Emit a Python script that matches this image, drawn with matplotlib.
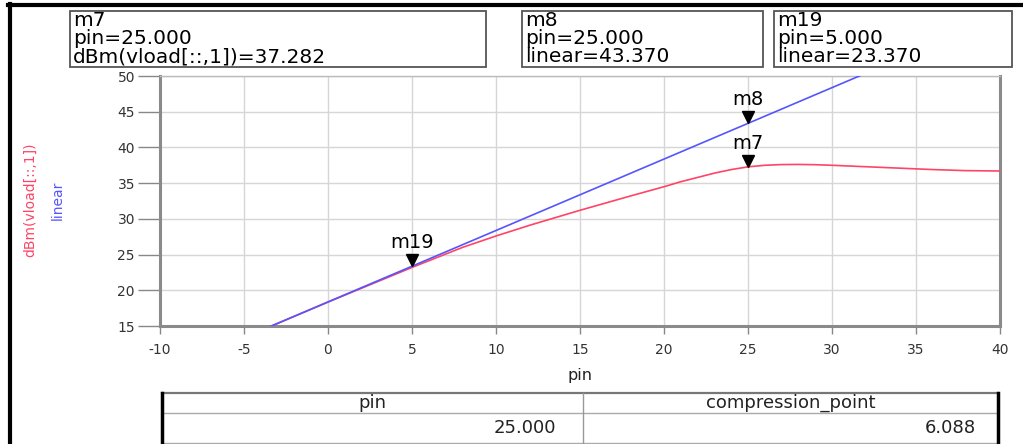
import matplotlib
matplotlib.use("Agg")
import matplotlib.pyplot as plt
from matplotlib.patches import Rectangle
from matplotlib.lines import Line2D
import matplotlib.transforms as mtransforms

# ---------------- data ----------------
pin = [-10, -5, 0, 5, 8, 10, 12, 15, 18, 20, 21, 22, 23, 24, 25, 26, 27, 28,
       29, 30, 32, 34, 36, 38, 40]
dbm_vload = [8.37, 13.37, 18.35, 23.2, 26.0, 27.6, 29.1, 31.2, 33.2, 34.5, 35.2,
             35.8, 36.4, 36.9, 37.28, 37.5, 37.6, 37.62, 37.58, 37.5, 37.3, 37.1,
             36.9, 36.75, 36.7]
pin_linear = [-10, 40]
linear = [8.37, 58.37]

marker_names = ["m7", "m8", "m19"]
marker_pin = [25.0, 25.0, 5.0]
marker_val = [37.282, 43.370, 23.370]
marker_expr = ["dBm(vload[::,1])", "linear", "linear"]

x_ticks = [-10, -5, 0, 5, 10, 15, 20, 25, 30, 35, 40]
y_ticks = [15, 20, 25, 30, 35, 40, 45, 50]

table_headers = ["pin", "compression_point"]
table_values = ["25.000", "6.088"]

# ---------------- figure ----------------
W, H = 1023, 444
fig = plt.figure(figsize=(W / 100, H / 100), dpi=100)
FONT = "DejaVu Sans"
plt.rcParams["font.family"] = FONT


def fx(x):
    return x / W


def fy(y):
    return 1 - y / H


ax_l, ax_r, ax_t, ax_b = 160, 1000, 76, 326
ax = fig.add_axes([fx(ax_l), fy(ax_b), (ax_r - ax_l) / W, (ax_b - ax_t) / H])

red = "#ff4466"
blue = "#5555ff"
ax.plot(pin, dbm_vload, color=red, lw=1.2, zorder=3)
ax.plot(pin_linear, linear, color=blue, lw=1.2, zorder=3)

ax.set_xlim(-10, 40)
ax.set_ylim(15, 50)
ax.set_xticks(x_ticks)
ax.set_yticks(y_ticks)
ax.set_xticklabels([str(t) for t in x_ticks])
ax.set_yticklabels([str(t) for t in y_ticks])
ax.grid(True, color="#d6d6d6", lw=1.0)
ax.set_axisbelow(True)
ax.tick_params(axis="y", length=16, width=1, color="#888888", labelsize=10,
               labelcolor="#333333", pad=2)
ax.tick_params(axis="x", length=6, width=1, color="#888888", labelsize=10,
               labelcolor="#333333", pad=6)
for s in ["left", "bottom", "right"]:
    ax.spines[s].set_color("#8a8a8a")
    ax.spines[s].set_linewidth(2.2)
ax.spines["top"].set_color("#bbbbbb")
ax.spines["top"].set_linewidth(1.0)
ax.set_xlabel("pin", fontsize=11.5, color="#222222", labelpad=8)

# markers on curves
for name, xp, yp in zip(marker_names, marker_pin, marker_val):
    ms = 9
    tr = mtransforms.offset_copy(ax.transData, fig=fig, y=ms / 2, units="points")
    ax.plot([xp], [yp], marker="v", color="black", markersize=ms,
            transform=tr, zorder=5, clip_on=False)
    tr2 = mtransforms.offset_copy(ax.transData, fig=fig, y=ms + 1, units="points")
    ax.text(xp, yp, name, transform=tr2, ha="center", va="bottom",
            fontsize=14, color="black", zorder=6)

# y axis labels (rotated)
fig.text(fx(30), fy(200), "dBm(vload[::,1])", rotation=90, color=red,
         fontsize=10, ha="center", va="center")
fig.text(fx(58), fy(200), "linear", rotation=90, color=blue,
         fontsize=10, ha="center", va="center")

# marker readout boxes
boxes = [(70, 486), (522, 763), (774, 1012)]
box_top, box_bot = 11, 67
for (bl, br), name, xp, yv, expr in zip(boxes, marker_names, marker_pin,
                                        marker_val, marker_expr):
    fig.patches.append(Rectangle((fx(bl), fy(box_bot)), (br - bl) / W,
                                 (box_bot - box_top) / H, transform=fig.transFigure,
                                 fill=False, edgecolor="#555555", lw=1.3))
    lines = [name, "pin=%.3f" % xp, "%s=%.3f" % (expr, yv)]
    for i, ln in enumerate(lines):
        fig.text(fx(bl + 3), fy(20 + i * 18.5), ln, fontsize=14.5,
                 ha="left", va="center", color="black")

# outer frame lines (top and left)
fig.add_artist(Line2D([fx(8), 1], [fy(5), fy(5)], transform=fig.transFigure,
                      color="black", lw=3))
fig.add_artist(Line2D([fx(10), fx(10)], [fy(4), 0], transform=fig.transFigure,
                      color="black", lw=3))

# table
t_l, t_r, t_t, t_m, t_b, t_c = 162, 998, 393, 413, 444, 583
fig.add_artist(Line2D([fx(t_l), fx(t_r)], [fy(t_t), fy(t_t)], transform=fig.transFigure,
                      color="#777777", lw=1.6))
fig.add_artist(Line2D([fx(t_l), fx(t_r)], [fy(t_m), fy(t_m)], transform=fig.transFigure,
                      color="#aaaaaa", lw=1.0))
fig.add_artist(Line2D([fx(t_l), fx(t_r)], [fy(t_b - 1), fy(t_b - 1)], transform=fig.transFigure,
                      color="#aaaaaa", lw=1.0))
fig.add_artist(Line2D([fx(t_l), fx(t_l)], [fy(t_t), fy(t_b)], transform=fig.transFigure,
                      color="black", lw=2.5))
fig.add_artist(Line2D([fx(t_r), fx(t_r)], [fy(t_t), fy(t_b)], transform=fig.transFigure,
                      color="black", lw=2.5))
fig.add_artist(Line2D([fx(t_c), fx(t_c)], [fy(t_t), fy(t_b)], transform=fig.transFigure,
                      color="#999999", lw=1.0))
fig.text(fx((t_l + t_c) / 2), fy(403), table_headers[0], fontsize=13,
         ha="center", va="center", color="#222222")
fig.text(fx((t_c + t_r) / 2), fy(403), table_headers[1], fontsize=13,
         ha="center", va="center", color="#222222")
fig.text(fx(556), fy(428), table_values[0], fontsize=13,
         ha="right", va="center", color="#222222")
fig.text(fx(976), fy(428), table_values[1], fontsize=13,
         ha="right", va="center", color="#222222")

fig.savefig("out.png", dpi=100)
